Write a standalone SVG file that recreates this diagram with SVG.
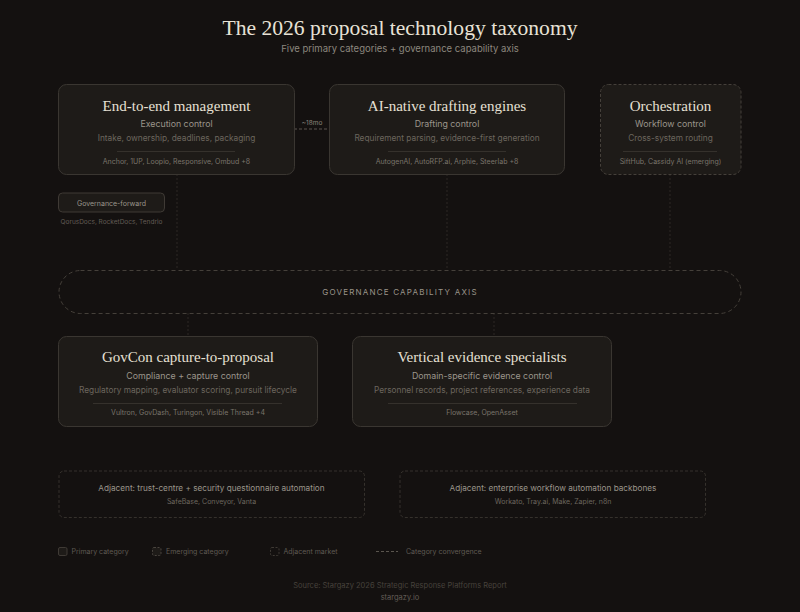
<svg xmlns="http://www.w3.org/2000/svg" width="800" height="612" viewBox="0 0 800 612">
<style>
.bg{fill:#141110}
.card{fill:#1e1b18;stroke:#3a3631;stroke-width:1}
.card-dash{fill:#1e1b18;stroke:#45403a;stroke-width:1;stroke-dasharray:3 2}
.adj{fill:none;stroke:#35312c;stroke-width:1;stroke-dasharray:3 2}
.axis{fill:none;stroke:#45403a;stroke-width:1;stroke-dasharray:4 3}
.div{stroke:#35312c;stroke-width:1}
.conn{stroke:#2c2824;stroke-width:1;stroke-dasharray:2 2;fill:none}
.conv{stroke:#5a554e;stroke-width:1;stroke-dasharray:3 2;fill:none}
.serif{font-family:"Liberation Serif","DejaVu Serif",serif}
.sans{font-family:Inter,"Liberation Sans",sans-serif}
.h{font-size:15px;fill:#e6e0d4;text-anchor:middle}
.sub{font-size:8.8px;fill:#9b958b;text-anchor:middle}
.desc{font-size:8.3px;fill:#6c665e;text-anchor:middle}
.co{font-size:7px;fill:#7a746b;text-anchor:middle}
.leg{font-size:7px;fill:#5f5a53}
</style>
<rect class="bg" x="0" y="0" width="800" height="612"/>

<text class="serif" x="400" y="35" font-size="21.6" fill="#e8e2d6" text-anchor="middle">The 2026 proposal technology taxonomy</text>
<text class="sans" x="400" y="52" font-size="9.5" fill="#8c877e" text-anchor="middle">Five primary categories + governance capability axis</text>

<g id="connectors">
<line class="conn" x1="177" y1="174" x2="177" y2="270"/>
<line class="conn" x1="447" y1="174" x2="447" y2="270"/>
<line class="conn" x1="670" y1="174" x2="670" y2="270"/>
<line class="conn" x1="188" y1="313" x2="188" y2="336"/>
<line class="conn" x1="494" y1="313" x2="494" y2="336"/>
<line class="conv" x1="294" y1="129" x2="330" y2="129"/>
<text class="sans" x="312" y="125" font-size="6.5" fill="#8a847a" text-anchor="middle">~18mo</text>
</g>

<g id="node-e2e">
<rect class="card" x="58.5" y="84.5" width="236" height="90" rx="8"/>
<text class="serif h" x="176.5" y="111">End-to-end management</text>
<text class="sans sub" x="176.5" y="127">Execution control</text>
<text class="sans desc" x="176.5" y="141">Intake, ownership, deadlines, packaging</text>
<line class="div" x1="117" y1="151.5" x2="235" y2="151.5"/>
<text class="sans co" x="176.5" y="164">Anchor, 1UP, Loopio, Responsive, Ombud +8</text>
</g>

<g id="node-ai">
<rect class="card" x="329.5" y="84.5" width="235" height="90" rx="8"/>
<text class="serif h" x="447" y="111">AI-native drafting engines</text>
<text class="sans sub" x="447" y="127">Drafting control</text>
<text class="sans desc" x="447" y="141">Requirement parsing, evidence-first generation</text>
<line class="div" x1="388" y1="151.5" x2="506" y2="151.5"/>
<text class="sans co" x="447" y="164">AutogenAI, AutoRFP.ai, Arphie, Steerlab +8</text>
</g>

<g id="node-orch">
<rect class="card-dash" x="600.5" y="84.5" width="140.5" height="90" rx="8"/>
<text class="serif h" x="670.5" y="111">Orchestration</text>
<text class="sans sub" x="670.5" y="127">Workflow control</text>
<text class="sans desc" x="670.5" y="141">Cross-system routing</text>
<line class="div" x1="623" y1="151.5" x2="717" y2="151.5"/>
<text class="sans co" x="670.5" y="164">SiftHub, Cassidy AI (emerging)</text>
</g>

<g id="node-gov-forward">
<rect x="58.5" y="193" width="106" height="19" rx="4" fill="#1e1b18" stroke="#3f3a35"/>
<text class="sans" x="111.5" y="205.5" font-size="7" fill="#9b958b" text-anchor="middle">Governance-forward</text>
<text class="sans" x="111.5" y="224" font-size="6.5" fill="#625c55" text-anchor="middle">QorusDocs, RocketDocs, Tendrio</text>
</g>

<g id="node-axis">
<rect class="axis" x="59" y="270.5" width="682" height="43" rx="21.5"/>
<text class="sans" x="400" y="295" font-size="8" fill="#9a948a" text-anchor="middle" letter-spacing="1.2">GOVERNANCE CAPABILITY AXIS</text>
</g>

<g id="node-govcon">
<rect class="card" x="58.5" y="336.5" width="259" height="90" rx="8"/>
<text class="serif h" x="188" y="362">GovCon capture-to-proposal</text>
<text class="sans sub" x="188" y="379">Compliance + capture control</text>
<text class="sans desc" x="188" y="393">Regulatory mapping, evaluator scoring, pursuit lifecycle</text>
<line class="div" x1="93" y1="403.5" x2="282" y2="403.5"/>
<text class="sans co" x="188" y="415">Vultron, GovDash, Turingon, Visible Thread +4</text>
</g>

<g id="node-vertical">
<rect class="card" x="352.5" y="336.5" width="259" height="90" rx="8"/>
<text class="serif h" x="482" y="362">Vertical evidence specialists</text>
<text class="sans sub" x="482" y="379">Domain-specific evidence control</text>
<text class="sans desc" x="482" y="393">Personnel records, project references, experience data</text>
<line class="div" x1="388" y1="403.5" x2="577" y2="403.5"/>
<text class="sans co" x="482" y="415">Flowcase, OpenAsset</text>
</g>

<g id="node-adj-trust">
<rect class="adj" x="59" y="471" width="305.5" height="46.5" rx="5"/>
<text class="sans" x="211.5" y="491" font-size="8.2" fill="#9b958b" text-anchor="middle">Adjacent: trust-centre + security questionnaire automation</text>
<text class="sans" x="211.5" y="504" font-size="7" fill="#6c665e" text-anchor="middle">SafeBase, Conveyor, Vanta</text>
</g>

<g id="node-adj-workflow">
<rect class="adj" x="400" y="471" width="305.5" height="46.5" rx="5"/>
<text class="sans" x="553" y="491" font-size="8.2" fill="#9b958b" text-anchor="middle">Adjacent: enterprise workflow automation backbones</text>
<text class="sans" x="553" y="504" font-size="7" fill="#6c665e" text-anchor="middle">Workato, Tray.ai, Make, Zapier, n8n</text>
</g>

<g id="legend">
<rect x="58.5" y="547.5" width="8.5" height="8" rx="1.5" fill="#1e1b18" stroke="#3f3a35"/>
<text class="sans leg" x="71.5" y="554">Primary category</text>
<rect x="152.5" y="547.5" width="8.5" height="8" rx="1.5" fill="#1e1b18" stroke="#4a453f" stroke-dasharray="2 1.5"/>
<text class="sans leg" x="166" y="554">Emerging category</text>
<rect x="270.5" y="547.5" width="8.5" height="8" rx="1.5" fill="none" stroke="#3f3a35" stroke-dasharray="2 1.5"/>
<text class="sans leg" x="283.5" y="554">Adjacent market</text>
<line class="conv" x1="376" y1="551.5" x2="398" y2="551.5"/>
<text class="sans leg" x="406" y="554">Category convergence</text>
</g>

<text class="sans" x="400" y="588" font-size="7.5" fill="#47423c" text-anchor="middle">Source: Stargazy 2026 Strategic Response Platforms Report</text>
<text class="sans" x="400" y="600" font-size="7.5" fill="#625c55" text-anchor="middle">stargazy.io</text>
</svg>
